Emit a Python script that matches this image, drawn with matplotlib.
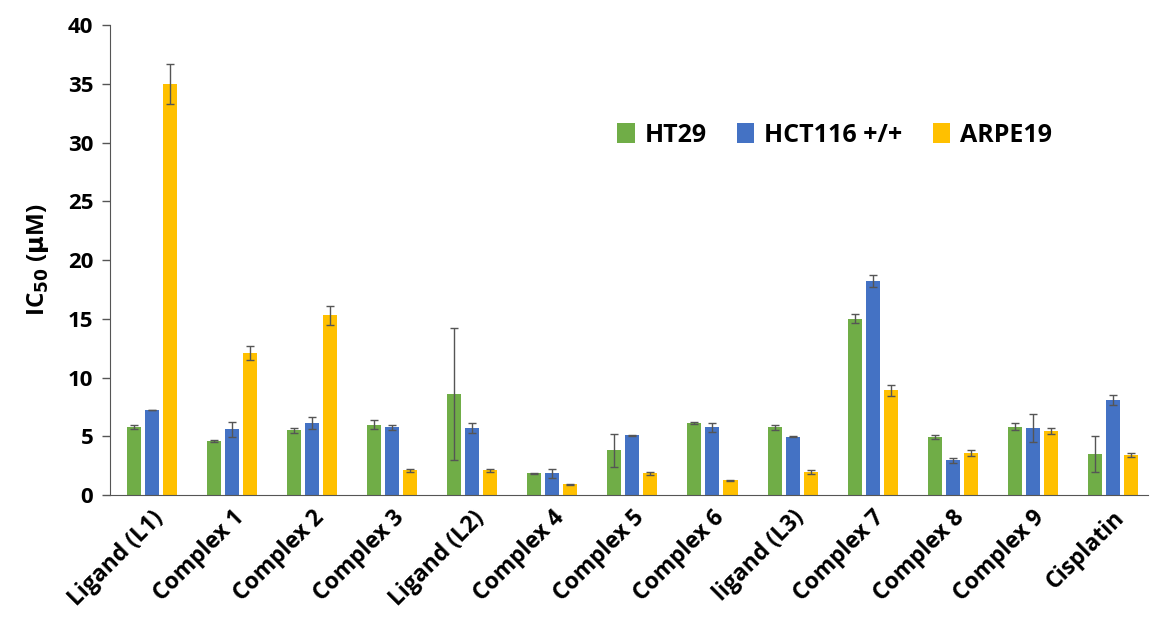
import numpy as np
from matplotlib import pyplot as plt

plt.rcParams["font.family"] = ["Open Sans", "DejaVu Sans"]

compounds = ["Ligand (L1)", "Complex 1", "Complex 2", "Complex 3", "Ligand (L2)",
             "Complex 4", "Complex 5", "Complex 6", "ligand (L3)", "Complex 7",
             "Complex 8", "Complex 9", "Cisplatin"]
series_names = ["HT29", "HCT116 +/+", "ARPE19"]

ht29 = [5.8, 4.6, 5.5, 6.0, 8.6, 1.85, 3.8, 6.15, 5.75, 15.0, 4.95, 5.8, 3.5]
ht29_err = [0.15, 0.05, 0.2, 0.4, 5.6, 0.05, 1.4, 0.1, 0.25, 0.4, 0.2, 0.3, 1.5]
hct116 = [7.2, 5.6, 6.1, 5.75, 5.7, 1.85, 5.1, 5.75, 4.95, 18.2, 2.95, 5.7, 8.1]
hct116_err = [0.0, 0.65, 0.5, 0.25, 0.4, 0.4, 0.05, 0.4, 0.05, 0.5, 0.2, 1.2, 0.45]
arpe19 = [35.0, 12.1, 15.3, 2.1, 2.1, 0.9, 1.85, 1.25, 1.95, 8.9, 3.6, 5.45, 3.4]
arpe19_err = [1.7, 0.6, 0.8, 0.1, 0.1, 0.05, 0.15, 0.05, 0.15, 0.45, 0.25, 0.25, 0.15]

colors = ["#70AD47", "#4472C4", "#FFC000"]

fig = plt.figure(figsize=(11.51, 6.19), dpi=100)
ax = fig.add_axes([0.0956, 0.2003, 0.9018, 0.7593])

x = np.arange(len(compounds))
width = 0.175
step = 0.225
data = [(ht29, ht29_err), (hct116, hct116_err), (arpe19, arpe19_err)]
for i, (vals, errs) in enumerate(data):
    ax.bar(x + (i - 1) * step, vals, width, color=colors[i], label=series_names[i],
           yerr=errs, error_kw=dict(ecolor="#555555", elinewidth=1, capsize=3, capthick=1))

ax.set_xlim(-0.525, 12.44)
ax.set_ylim(0, 40)
ax.set_yticks(np.arange(0, 41, 5))
ax.set_xticks(x)
ax.set_xticklabels(compounds, rotation=45, ha="right", rotation_mode="anchor",
                   fontsize=16.5, fontweight="bold")
for lab in ax.get_yticklabels():
    lab.set_fontsize(16)
    lab.set_fontweight("bold")
ax.tick_params(axis="x", length=0, pad=8)
ax.tick_params(axis="y", length=6, width=1, color="#555555", pad=6)

ax.spines["top"].set_visible(False)
ax.spines["right"].set_visible(False)
ax.spines["left"].set_color("#555555")
ax.spines["bottom"].set_color("#555555")

ax.set_ylabel(r"IC$_{\mathbf{50}}$ ($\mathbf{\mu}$M)", fontsize=17.5, fontweight="bold", labelpad=12)

ax.legend(loc="upper left", bbox_to_anchor=(0.467, 0.84), ncol=3, frameon=False,
          prop=dict(size=18, weight="bold"), handlelength=0.7, handleheight=0.8,
          columnspacing=1.2, handletextpad=0.4)

fig.savefig("out.png", dpi=100)
